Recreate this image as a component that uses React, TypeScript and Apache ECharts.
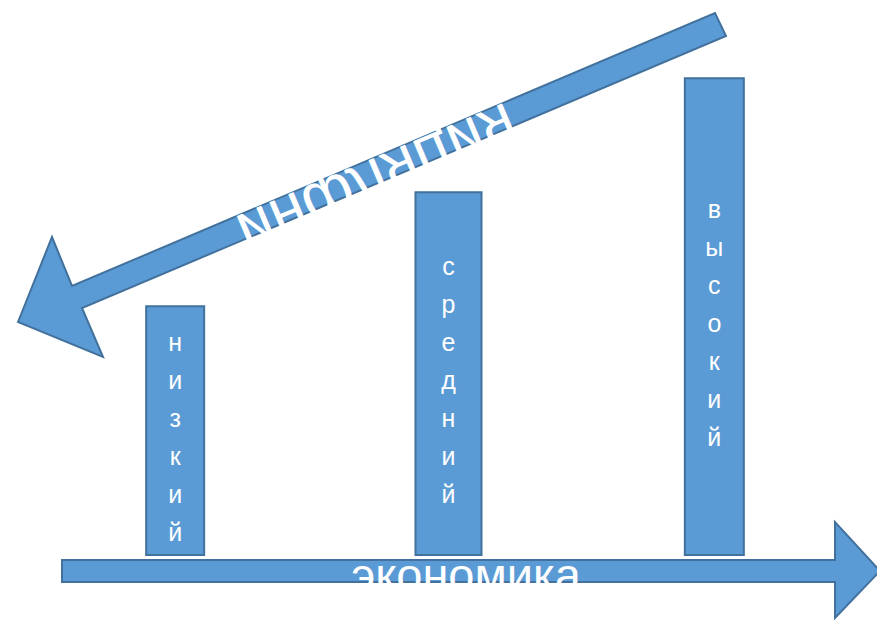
import React, { useEffect, useRef } from "react";
import * as echarts from "echarts";

const categories: string[] = ["низкий", "средний", "высокий"];
const values: number[] = [2.2, 3.2, 4.2];
const barWidths: number[] = [60, 68, 61];
const xTitle = "экономика";
const diagTitle = "инфляция";

const FILL = "#5B9BD5";
const STROKE = "#41719C";
const FONT = "'Liberation Sans', Arial, sans-serif";

export default function App() {
  const ref = useRef<HTMLDivElement>(null);
  useEffect(() => {
    if (!ref.current) return;
    const chart = echarts.init(ref.current, undefined, { renderer: "svg" });
    const series = categories.map((name, i) => ({
      type: "bar",
      name,
      barWidth: barWidths[i],
      barGap: "-100%",
      data: categories.map((c, j) => (j === i ? { value: values[j], name: c } : "-")),
      itemStyle: { color: FILL, borderColor: STROKE, borderWidth: 2 },
      label: {
        show: true,
        position: "inside",
        offset: [0, 6],
        formatter: (p: any) => String(p.name).split("").join("\n"),
        color: "#ffffff",
        fontSize: 25,
        lineHeight: 38,
        fontFamily: FONT,
      },
      emphasis: { disabled: true },
    }));

    const diagPoints = [
      [18, 322], [52, 237], [72, 286], [715, 13], [726, 36], [82, 308], [103, 357],
    ];
    const bottomPoints = [
      [62, 560], [835, 560], [835, 522], [880, 571], [835, 618], [835, 582], [62, 582],
    ];

    chart.setOption({
      animation: false,
      grid: { left: 41, width: 808, top: 43, bottom: 64 },
      xAxis: { type: "category", data: categories, show: false },
      yAxis: { type: "value", min: 0, max: 4.5, show: false, splitLine: { show: false } },
      series,
      graphic: [
        {
          type: "polygon",
          z: 10,
          shape: { points: bottomPoints },
          style: { fill: FILL, stroke: STROKE, lineWidth: 2 },
        },
        {
          type: "text",
          z: 11,
          x: 466,
          y: 574,
          style: {
            text: xTitle,
            fill: "#ffffff",
            font: `47px ${FONT}`,
            align: "center",
            verticalAlign: "middle",
          },
        },
        {
          type: "polygon",
          z: 10,
          shape: { points: diagPoints },
          style: { fill: FILL, stroke: STROKE, lineWidth: 2 },
        },
        {
          type: "text",
          z: 11,
          x: 378,
          y: 180,
          rotation: (23 * Math.PI) / 180,
          scaleY: -1,
          style: {
            text: diagTitle,
            fill: "#ffffff",
            font: `63px ${FONT}`,
            align: "center",
            verticalAlign: "middle",
          },
        },
      ],
    });
    return () => chart.dispose();
  }, []);
  return (
    <div
      ref={ref}
      style={{ position: "absolute", left: 0, top: 0, width: 877, height: 620 }}
    />
  );
}
